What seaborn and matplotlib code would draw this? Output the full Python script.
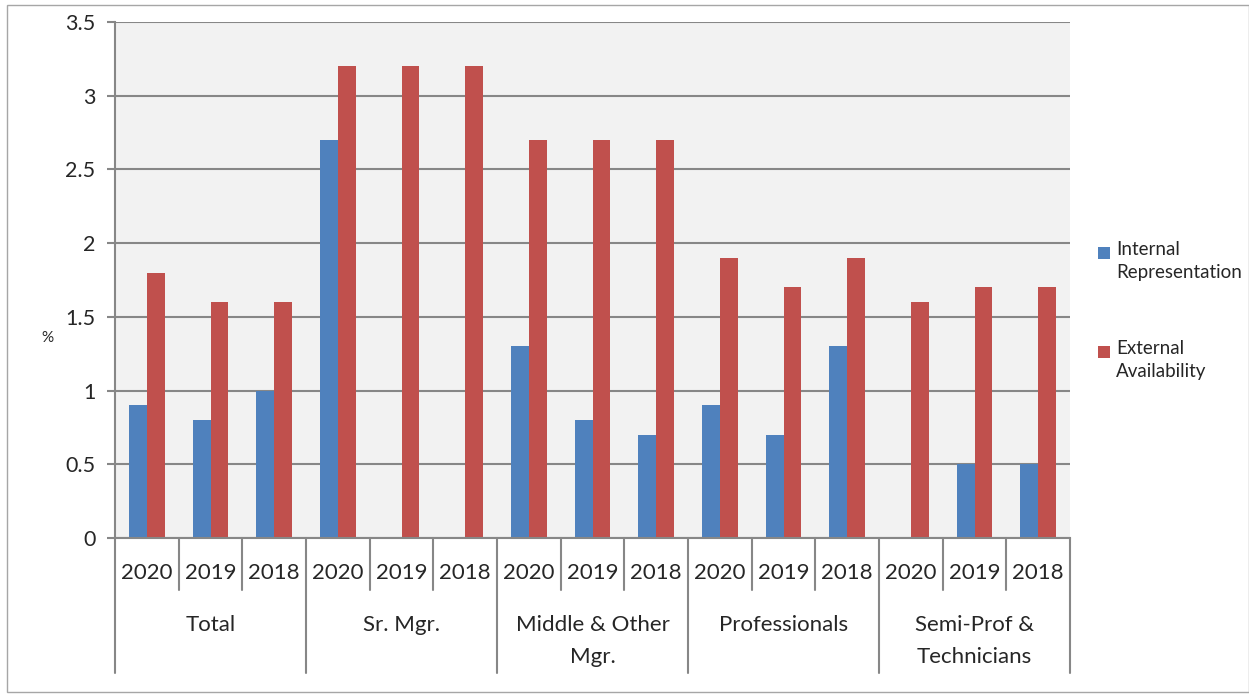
import seaborn as sns
import matplotlib.pyplot as plt
import pandas as pd
from matplotlib.patches import Rectangle
import matplotlib.transforms as mtransforms

# datos
grupos = ["Total", "Sr. Mgr.", "Middle & Other\nMgr.", "Professionals", "Semi-Prof &\nTechnicians"]
anios = ["2020", "2019", "2018"]
interna = [0.9, 0.8, 1.0, 2.7, 0.0, 0.0, 1.3, 0.8, 0.7, 0.9, 0.7, 1.3, 0.0, 0.5, 0.5]
externa = [1.8, 1.6, 1.6, 3.2, 3.2, 3.2, 2.7, 2.7, 2.7, 1.9, 1.7, 1.9, 1.6, 1.7, 1.7]
series = ["Internal Representation", "External Availability"]
colores = ["#4F81BD", "#C0504D"]

sns.set_style("white")
plt.rcParams["font.family"] = ["Lato", "DejaVu Sans"]

categorias = [g + " " + a for g in grupos for a in anios]
df = pd.DataFrame({
    "Categoria": categorias * 2,
    "Valor": interna + externa,
    "Serie": [series[0]] * len(categorias) + [series[1]] * len(categorias),
})

fig = plt.figure(figsize=(12.49, 6.98), dpi=100)
ax = fig.add_axes([115 / 1249, 1 - 538 / 698, 955 / 1249, 516 / 698])
ax.set_facecolor("#F2F2F2")

sns.barplot(data=df, x="Categoria", y="Valor", hue="Serie", order=categorias,
            hue_order=series, palette=colores, width=0.56, gap=0, ax=ax,
            legend=False, saturation=1, linewidth=0)

gris = "#878787"
ax.set_ylim(0, 3.5)
ax.set_xlim(-0.5, len(categorias) - 0.5)
ax.set_yticks([0, 0.5, 1, 1.5, 2, 2.5, 3, 3.5])
ax.set_yticklabels(["0", "0.5", "1", "1.5", "2", "2.5", "3", "3.5"], fontsize=15.5)
ax.yaxis.grid(True, color=gris, linewidth=1.5)
ax.set_axisbelow(True)
ax.tick_params(axis="y", length=6, color=gris, width=1.5, pad=8, left=True)
ax.set_xticks([])
ax.set_xlabel("")
ax.set_ylabel("")
for lado in ["top", "right"]:
    ax.spines[lado].set_visible(False)
ax.spines["left"].set_color(gris)
ax.spines["left"].set_linewidth(1.5)
ax.spines["bottom"].set_color(gris)
ax.spines["bottom"].set_linewidth(1.5)

# eje x de varios niveles
trans = mtransforms.blended_transform_factory(ax.transData, ax.transAxes)
for i, cat in enumerate(categorias):
    ax.text(i, -0.068, anios[i % 3], transform=trans, ha="center", va="center", fontsize=16)
for i in range(len(categorias) + 1):
    x = i - 0.5
    abajo = -0.262 if i % 3 == 0 else -0.101
    ax.plot([x, x], [0, abajo], transform=trans, color=gris, linewidth=1.5, clip_on=False)
for j, g in enumerate(grupos):
    ax.text(j * 3 + 1, -0.149, g, transform=trans, ha="center", va="top",
            fontsize=16, linespacing=1.75)

fig.text(47 / 1249, 1 - 338 / 698, "%", fontsize=11, ha="center", va="center")

# leyenda
leyenda_y = [253, 352]
textos = ["Internal\nRepresentation", "External\nAvailability"]
for y, t, c in zip(leyenda_y, textos, colores):
    fig.patches.append(Rectangle((1098 / 1249, 1 - (y + 6) / 698), 12 / 1249, 12 / 698,
                                 transform=fig.transFigure, facecolor=c, edgecolor="none"))
    fig.text(1116 / 1249, 1 - (y - 12) / 698, t, fontsize=13.5, ha="left", va="top",
             linespacing=1.4)

# marco exterior
fig.patches.append(Rectangle((7 / 1249, 6 / 698), 1 - 7 / 1249, 687 / 698,
                             transform=fig.transFigure, fill=False,
                             edgecolor="#A6A6A6", linewidth=1))

plt.savefig("out.png", dpi=100)
